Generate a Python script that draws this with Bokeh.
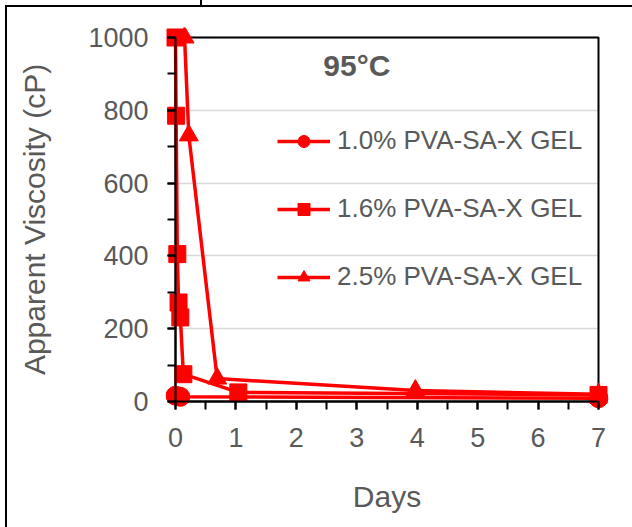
from bokeh.plotting import figure
from bokeh.models import (Range1d, SingleIntervalTicker, Label, BoxAnnotation,
                          Legend, LegendItem, LinearAxis)
from bokeh.embed import file_html
from bokeh.resources import INLINE

# ---------------- data ----------------
days_10 = [0.0, 0.08, 7.0]
visc_10 = [16, 13, 9]

days_16 = [0.0, 0.01, 0.03, 0.05, 0.08, 0.13, 1.04, 7.0]
visc_16 = [1000, 785, 405, 272, 231, 75, 25, 18]

days_25 = [0.15, 0.22, 0.69, 3.97, 7.0]
visc_25 = [1000, 731, 63, 30, 20]

series_labels = ["1.0% PVA-SA-X GEL", "1.6% PVA-SA-X GEL", "2.5% PVA-SA-X GEL"]
title_text = "95°C"
x_label = "Days"
y_label = "Apparent Viscosity (cP)"
x_lim = [0, 7]
y_lim = [0, 1000]
x_tick_step = 1
y_tick_step = 200

# ---------------- layout ----------------
W, H = 632, 527
AX_L, AX_R, AX_T, AX_B = 175, 598, 37, 401
PAD = 10
xpp = (AX_R - AX_L) / (x_lim[1] - x_lim[0])
ypp = (AX_B - AX_T) / (y_lim[1] - y_lim[0])

FONT = "Liberation Sans"
GREY = "#595959"
RED = "#FF0000"

p = figure(width=W, height=H, output_backend="svg", toolbar_location=None,
           x_range=Range1d(x_lim[0] - PAD / xpp, x_lim[1] + PAD / xpp),
           y_range=Range1d(y_lim[0] - PAD / ypp, y_lim[1] + PAD / ypp),
           min_border_left=AX_L - PAD, min_border_right=W - AX_R - PAD,
           min_border_top=AX_T - PAD, min_border_bottom=H - AX_B - PAD)

p.outline_line_color = None
p.background_fill_color = "white"
p.border_fill_alpha = 0
p.styles = {
    "background-color": "white",
    "background-image": "linear-gradient(#000,#000), linear-gradient(#000,#000), linear-gradient(#000,#000)",
    "background-size": "2px 100%, 100% 2px, 2px 6px",
    "background-position": "5px 5px, 5px 5px, 200px 0px",
    "background-repeat": "no-repeat",
}

xticker = SingleIntervalTicker(interval=x_tick_step, num_minor_ticks=2)
yticker = SingleIntervalTicker(interval=y_tick_step, num_minor_ticks=2)

# label axes (at the frame edge): text only
for ax, tk, lim in ((p.xaxis[0], xticker, x_lim), (p.yaxis[0], yticker, y_lim)):
    ax.ticker = tk
    ax.bounds = tuple(lim)
    ax.axis_line_color = None
    ax.major_tick_line_color = None
    ax.minor_tick_line_color = None
    ax.major_tick_in = 0
    ax.major_tick_out = 0
    ax.minor_tick_in = 0
    ax.minor_tick_out = 0
    ax.major_label_text_font = FONT
    ax.major_label_text_font_size = "27px"
    ax.major_label_text_color = GREY
    ax.axis_label_text_font = FONT
    ax.axis_label_text_font_size = "30px"
    ax.axis_label_text_font_style = "normal"
    ax.axis_label_text_color = GREY
p.xaxis[0].axis_label = x_label
p.yaxis[0].axis_label = y_label
p.xaxis[0].major_label_standoff = 16
p.xaxis[0].axis_label_standoff = 30
p.yaxis[0].major_label_standoff = 17
p.yaxis[0].axis_label_standoff = 34

# rule axes (drawn at data zero): line and ticks only, panels on the far sides
for side, tk, lim in (("above", xticker, x_lim), ("right", yticker, y_lim)):
    ax = LinearAxis(ticker=tk, bounds=tuple(lim), fixed_location=0)
    ax.axis_line_color = "black"
    ax.axis_line_width = 2
    ax.major_tick_line_color = "black"
    ax.major_tick_line_width = 2
    ax.minor_tick_line_color = "black"
    ax.minor_tick_line_width = 2
    ax.major_tick_in = 8
    ax.major_tick_out = 0
    ax.minor_tick_in = 8
    ax.minor_tick_out = 0
    ax.major_label_text_color = None
    ax.major_label_standoff = 0
    p.add_layout(ax, side)

# grid
p.xgrid.visible = False
p.ygrid.grid_line_color = "#d9d9d9"
p.ygrid.grid_line_width = 1.5
try:
    p.ygrid.cross_bounds = tuple(x_lim)
except Exception:
    p.ygrid.visible = False
    gv = list(range(y_lim[0] + y_tick_step, y_lim[1], y_tick_step))
    p.multi_line(xs=[list(x_lim) for _ in gv], ys=[[v, v] for v in gv],
                 line_color="#d9d9d9", line_width=1.5, level="underlay")

# plot-area border
p.add_layout(BoxAnnotation(left=x_lim[0], right=x_lim[1], bottom=y_lim[0], top=y_lim[1],
                           fill_alpha=0, fill_color=None, line_color="black",
                           line_alpha=1.0, line_width=2, level="underlay"))

# series
LW = 3.5
l1 = p.line(days_10, visc_10, line_color=RED, line_width=LW)
s1 = p.scatter(days_10, visc_10, marker="circle", size=19, color=RED)
l2 = p.line(days_16, visc_16, line_color=RED, line_width=LW)
s2 = p.scatter(days_16, visc_16, marker="square", size=17, color=RED)
l3 = p.line(days_25, visc_25, line_color=RED, line_width=LW)
s3 = p.scatter(days_25, visc_25, marker="triangle", size=19, color=RED)

legend = Legend(items=[
    LegendItem(label=series_labels[0], renderers=[l1, s1]),
    LegendItem(label=series_labels[1], renderers=[l2, s2]),
    LegendItem(label=series_labels[2], renderers=[l3, s3]),
], location=(112, 119))
legend.padding = 0
legend.margin = 0
legend.spacing = 37
legend.glyph_width = 53
legend.glyph_height = 30
legend.label_height = 30
legend.label_standoff = 7
legend.label_text_font = FONT
legend.label_text_font_size = "26px"
legend.label_text_color = GREY
legend.background_fill_alpha = 0
legend.border_line_color = None
p.add_layout(legend)

p.add_layout(Label(x=3.0, y=924, text=title_text, text_font=FONT,
                   text_font_style="bold", text_font_size="30px",
                   text_color=GREY, text_align="center", text_baseline="middle"))

open("out.html", "w").write(file_html(p, INLINE))
